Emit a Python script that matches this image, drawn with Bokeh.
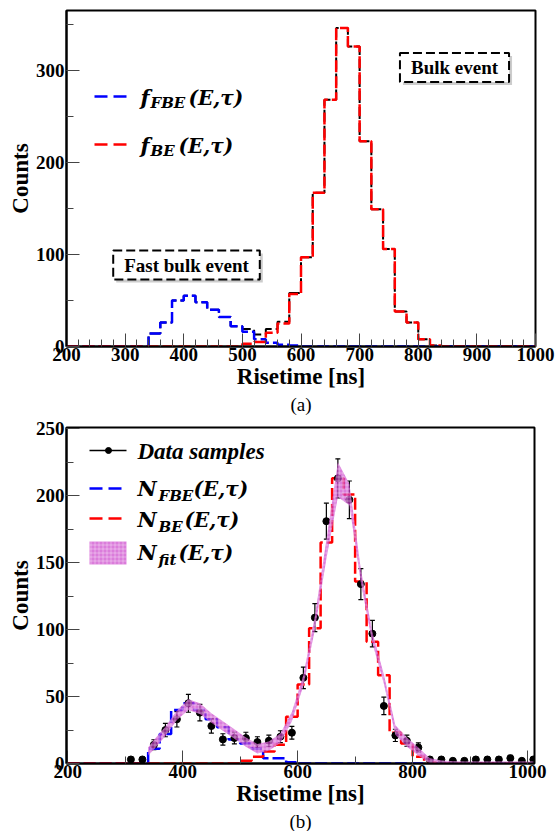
import numpy as np
from bokeh.plotting import figure
from bokeh.layouts import column
from bokeh.models import (Range1d, SingleIntervalTicker, Label, Title, Whisker,
                          TeeHead, ColumnDataSource)
from bokeh.embed import file_html
from bokeh.resources import INLINE

# ---------------- data ----------------
bin_edges = list(range(200, 1001, 20))  # 40 bins of 20 ns

# panel (a): normalised templates
top_fbe = [0, 0, 0, 0, 0, 0, 0, 14, 26, 50, 55, 48, 40, 32, 22, 16, 8, 4, 2, 1,
           0, 0, 0, 0, 0, 0, 0, 0, 0, 0, 0, 0, 0, 0, 0, 0, 0, 0, 0, 0]
top_be = [0, 0, 0, 0, 0, 0, 0, 0, 0, 0, 0, 0, 0, 0, 0, 3, 5, 15, 25, 57,
          97, 167, 268, 346, 326, 223, 149, 106, 38, 26, 8, 1, 0, 0, 0, 0, 0, 0, 0, 0]

# panel (b): fitted components
bot_fbe = [0, 0, 0, 0, 0, 0, 0, 11, 22, 40, 45, 40, 33, 27, 18, 15, 11, 4, 4, 1,
           0, 0, 0, 0, 0, 0, 0, 0, 0, 0, 0, 0, 0, 0, 0, 0, 0, 0, 0, 0]
bot_be = [0, 0, 0, 0, 0, 0, 0, 0, 0, 0, 0, 0, 0, 0, 0, 2, 5, 9, 14, 35,
          59, 101, 165, 213, 201, 136, 91, 66, 23, 15, 5, 1, 0, 0, 0, 0, 0, 0, 0, 0]

# data samples
data_x = [310, 330, 350, 370, 390, 410, 430, 450, 470, 490, 510, 530, 550, 570, 590,
          610, 630, 650, 670, 690, 710, 730, 750, 770, 790, 810, 830, 850, 870, 890,
          910, 930, 950, 970, 990, 1010]
data_y = [3, 3, 14, 25, 33, 45, 38, 28, 18, 19, 19, 16, 17, 20, 23,
          64, 109, 181, 213, 197, 134, 97, 43, 21, 17, 12, 3, 3, 2, 2,
          3, 3, 3, 4, 2, 3]

# fit band
fit_x = [340, 350, 370, 390, 410, 430, 450, 470, 490, 510, 530, 550, 570, 590, 610,
         630, 650, 670, 690, 710, 730, 750, 770, 790, 810, 830, 850, 870, 890, 910,
         930, 950, 970, 990, 1010]
fit_y = [9, 14, 24, 36, 44, 41, 34, 28, 22, 16, 11, 13, 19, 35, 62,
         105, 160, 212, 201, 140, 94, 63, 25, 16, 9, 2, 1, 0.6, 0.5, 0.5,
         0.5, 0.5, 0.5, 0.5, 0.5]
fit_err = [3, 3.5, 3.5, 3.5, 4, 4, 3.5, 3.5, 3.5, 3.5, 3.5, 3.5, 3.5, 3.5, 4,
           5, 7, 13, 8, 5, 4, 3.5, 3.5, 3.5, 3, 2, 1.2, 1, 1, 1,
           1, 1, 1, 1, 1]

SERIF = "Times New Roman"
MATH = "DejaVu Serif"


def hist_xy(edges, counts):
    return list(edges), list(counts) + [counts[-1]]


def style(p, xint, xminor, yint, yminor):
    p.xgrid.visible = False
    p.ygrid.visible = False
    p.outline_line_color = "black"
    p.outline_line_width = 2
    p.outline_line_alpha = 1
    p.xaxis.ticker = SingleIntervalTicker(interval=xint, num_minor_ticks=xminor)
    p.yaxis.ticker = SingleIntervalTicker(interval=yint, num_minor_ticks=yminor)
    for ax in (p.xaxis[0], p.yaxis[0]):
        ax.axis_line_width = 2
        ax.axis_line_color = "black"
        ax.major_tick_in = 13
        ax.major_tick_out = 0
        ax.minor_tick_in = 7
        ax.minor_tick_out = 0
        ax.major_tick_line_color = "#444444"
        ax.minor_tick_line_color = "#444444"
        ax.major_tick_line_width = 1
        ax.minor_tick_line_width = 1
        ax.major_label_text_font = SERIF
        ax.major_label_text_font_style = "bold"
        ax.major_label_text_font_size = "19px"
        ax.major_label_text_color = "black"
        ax.major_label_standoff = 2
        ax.axis_label_text_font = SERIF
        ax.axis_label_text_font_style = "bold"
        ax.axis_label_text_font_size = "23px"
        ax.axis_label_text_color = "black"
        ax.axis_label_standoff = 0
    p.xaxis.major_label_standoff = 1
    p.xaxis.axis_label = "Risetime [ns]"
    p.yaxis.axis_label = "Counts"


def lab(p, x, y, text, size, font=MATH, fstyle="bold italic"):
    p.add_layout(Label(x=x, y=y, text=text, text_font=font, text_font_style=fstyle,
                       text_font_size=size, text_baseline="middle", text_align="left",
                       text_color="black"))


def box_label(p, x, y, text):
    p.add_layout(Label(x=x, y=y, text=text, text_font=SERIF, text_font_style="bold",
                       text_font_size="19px", text_baseline="middle", text_align="center",
                       text_color="#999999", x_offset=3, y_offset=-3,
                       background_fill_color="#aaaaaa", background_fill_alpha=0.6,
                       border_line_color=None, padding=(11, 4)))
    p.add_layout(Label(x=x, y=y, text=text, text_font=SERIF, text_font_style="bold",
                       text_font_size="19px", text_baseline="middle", text_align="center",
                       text_color="black", background_fill_color="white",
                       border_line_color="black", border_line_width=2,
                       border_line_dash="9 4", padding=(11, 4)))


# ---------------- panel (a) ----------------
p1 = figure(width=555, height=418, frame_width=469, frame_height=336,
            x_range=Range1d(200, 1000), y_range=Range1d(0, 365),
            output_backend="svg", toolbar_location=None, title=None,
            min_border_left=66, min_border_right=20, min_border_top=10,
            min_border_bottom=72, background_fill_color="white",
            border_fill_color="white")
style(p1, 100, 5, 100, 2)


def tx(px):
    return 200 + (px - 66) * 800 / 469


def ty(py):
    return (346 - py) * 365 / 336


total_top = [a + b for a, b in zip(top_fbe, top_be)]
xs, ys = hist_xy(bin_edges, total_top)
p1.step(xs, ys, mode="after", line_color="black", line_width=2, line_dash="12 4")
xs, ys = hist_xy(bin_edges, top_fbe)
p1.step(xs, ys, mode="after", line_color="#0000ff", line_width=2.5, line_dash="12 4")
xs, ys = hist_xy(bin_edges, top_be)
p1.step(xs, ys, mode="after", line_color="#ff0000", line_width=2.5, line_dash="12 4")

# legend (a)
p1.line([tx(94), tx(127)], [ty(96), ty(96)], line_color="#0000ff", line_width=2.5, line_dash="13 6")
p1.line([tx(94), tx(127)], [ty(144), ty(144)], line_color="#ff0000", line_width=2.5, line_dash="13 6")
lab(p1, tx(140), ty(97), "f", "21px")
lab(p1, tx(150), ty(102), "FBE", "15px")
lab(p1, tx(188), ty(97), "(E,τ)", "20px")
lab(p1, tx(140), ty(145), "f", "21px")
lab(p1, tx(150), ty(150), "BE", "15px")
lab(p1, tx(178), ty(145), "(E,τ)", "20px")

box_label(p1, tx(454), ty(67), "Bulk event")
box_label(p1, tx(186), ty(264.5), "Fast bulk event")

p1.add_layout(Title(text="(a)", align="center", text_font=SERIF, text_font_style="normal",
                    text_font_size="19px", text_color="black", standoff=0, offset=0), "below")

# ---------------- panel (b) ----------------
p2 = figure(width=555, height=413, frame_width=468, frame_height=336,
            x_range=Range1d(198, 1012), y_range=Range1d(0, 251),
            output_backend="svg", toolbar_location=None, title=None,
            min_border_left=66, min_border_right=21, min_border_top=9,
            min_border_bottom=60, background_fill_color="white",
            border_fill_color="white")
style(p2, 200, 2, 50, 2)


def bx(px):
    return 198 + (px - 66) * 814 / 468


def by(py):
    return (764 - py) * 251 / 336


xs, ys = hist_xy(bin_edges, bot_fbe)
p2.step(xs, ys, mode="after", line_color="#0000ff", line_width=2.5, line_dash="12 4")
xs, ys = hist_xy(bin_edges, bot_be)
p2.step(xs, ys, mode="after", line_color="#ff0000", line_width=2.5, line_dash="12 4")

dy = np.array(data_y, dtype=float)
err = np.sqrt(dy)
src = ColumnDataSource(dict(x=data_x, y=data_y, upper=list(dy + err), lower=list(dy - err)))
p2.add_layout(Whisker(base="x", upper="upper", lower="lower", source=src, dimension="height",
                      line_color="black", line_width=1.2,
                      upper_head=TeeHead(size=5, line_color="black", line_width=1.2),
                      lower_head=TeeHead(size=5, line_color="black", line_width=1.2)))
p2.scatter("x", "y", source=src, size=7, marker="circle", fill_color="black", line_color="black")

fy = np.array(fit_y, dtype=float)
fe = np.array(fit_err, dtype=float)
band_kw = dict(fill_color="#cc44cc", fill_alpha=0.7, hatch_pattern="+", hatch_color="white",
               hatch_alpha=0.35, hatch_scale=4, hatch_weight=1)
p2.varea(x=fit_x, y1=list(np.clip(fy - fe, 0, None)), y2=list(fy + fe), **band_kw)

# legend (b)
p2.line([bx(89), bx(126)], [by(451), by(451)], line_color="black", line_width=1.5)
p2.scatter([bx(108)], [by(451)], size=6, marker="circle", fill_color="black", line_color="black")
lab(p2, bx(137), by(452), "Data samples", "23px", font=SERIF)
p2.line([bx(89), bx(126)], [by(489), by(489)], line_color="#0000ff", line_width=2.5, line_dash="13 6")
p2.line([bx(89), bx(126)], [by(519), by(519)], line_color="#ff0000", line_width=2.5, line_dash="13 6")
p2.quad(left=[bx(89)], right=[bx(126)], bottom=[by(565)], top=[by(542)], line_color=None, **band_kw)
lab(p2, bx(137), by(489), "N", "21px")
lab(p2, bx(158), by(496), "FBE", "15px")
lab(p2, bx(193), by(489), "(E,τ)", "20px")
lab(p2, bx(137), by(520), "N", "21px")
lab(p2, bx(158), by(527), "BE", "15px")
lab(p2, bx(184), by(520), "(E,τ)", "20px")
lab(p2, bx(137), by(553), "N", "21px")
lab(p2, bx(158), by(560), "fit", "15px")
lab(p2, bx(178), by(553), "(E,τ)", "20px")

p2.add_layout(Title(text="(b)", align="center", text_font=SERIF, text_font_style="normal",
                    text_font_size="19px", text_color="black", standoff=0, offset=0), "below")

layout = column(p1, p2, spacing=0)
open("out.html", "w").write(file_html(layout, INLINE))
